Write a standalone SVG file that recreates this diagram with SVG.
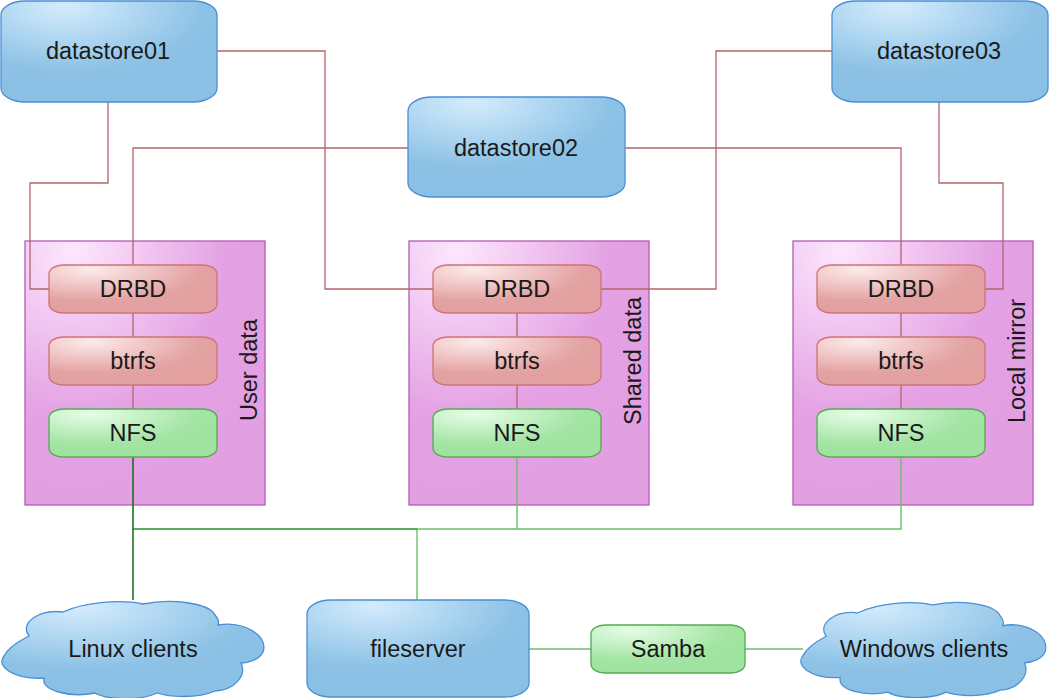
<svg xmlns="http://www.w3.org/2000/svg" xmlns:xlink="http://www.w3.org/1999/xlink" width="1049" height="698" viewBox="0 0 1049 698">
<style>
text{font-family:"Liberation Sans",Arial,sans-serif;font-size:23.5px;fill:#1a1a1a;text-anchor:middle}
.blue{fill:url(#gBlue);stroke:#4a8fd6;stroke-width:1.3}
.cont{fill:url(#gPink);stroke:#b25cb2;stroke-width:1.3}
.red{fill:url(#gRed);stroke:#cc7474;stroke-width:1.3}
.grn{fill:url(#gGreen);stroke:#55aa55;stroke-width:1.3}
.lr{fill:none;stroke:#b5646a;stroke-width:1.3}
.lgd{fill:none;stroke:#1f6f1f;stroke-width:1.6}
.lgm{fill:none;stroke:#2b8f2b;stroke-width:1.6}
.lgl{fill:none;stroke:#6cbf6c;stroke-width:1.4}
</style>
<defs>
<radialGradient id="gBlue" cx="0.3" cy="0.05" r="0.85" fx="0.3" fy="0.05"><stop offset="0" stop-color="#d4ecfd"/><stop offset="0.75" stop-color="#8dc2e6"/><stop offset="1" stop-color="#8bc0e5"/></radialGradient>
<radialGradient id="gPink" cx="0.2" cy="0.03" r="0.9" fx="0.2" fy="0.03"><stop offset="0" stop-color="#fde7fd"/><stop offset="0.7" stop-color="#e4a2e4"/><stop offset="1" stop-color="#e29fe2"/></radialGradient>
<radialGradient id="gRed" cx="0.25" cy="0.1" r="0.8" fx="0.25" fy="0.1"><stop offset="0" stop-color="#fdeaea"/><stop offset="0.8" stop-color="#e4a3a3"/><stop offset="1" stop-color="#e3a0a0"/></radialGradient>
<radialGradient id="gGreen" cx="0.25" cy="0.1" r="0.8" fx="0.25" fy="0.1"><stop offset="0" stop-color="#e6fde6"/><stop offset="0.8" stop-color="#a3e4a3"/><stop offset="1" stop-color="#a0e3a0"/></radialGradient>
<path id="cloud" d="M28,35 C18,22 38,8 62,11 C84,1 120,-2 142,3 C170,-3 208,2 214,14 C218,19 218,22 217,24 C242,20 268,34 262,51 C259,58 248,62 240,62 C246,74 234,89 214,90 C196,98 168,96 156,92 C140,100 106,99 94,92 C70,97 40,90 43,77 C15,79 -6,66 3,55 C8,45 22,38 28,35 Z"/>
</defs>

<g id="userdata">
<rect class="cont" x="25" y="241" width="240" height="264"/>
<text transform="translate(257,370) rotate(-90)">User data</text>
</g>
<g id="shareddata">
<rect class="cont" x="409" y="241" width="240" height="264"/>
<text transform="translate(641,361) rotate(-90)">Shared data</text>
</g>
<g id="localmirror">
<rect class="cont" x="793" y="241" width="240" height="264"/>
<text transform="translate(1025,361) rotate(-90)">Local mirror</text>
</g>

<g id="connectors">
<path class="lr" d="M108,102 V183 H30 V289 H49"/>
<path class="lr" d="M217,51 H325 V289 H433"/>
<path class="lr" d="M408,148 H133 V265"/>
<path class="lr" d="M625,148 H901 V265"/>
<path class="lr" d="M832,51 H716 V289 H601"/>
<path class="lr" d="M939,102 V183 H1003 V289 H985"/>
<path class="lr" d="M133,313 V337 M133,385 V409"/>
<path class="lr" d="M517,313 V337 M517,385 V409"/>
<path class="lr" d="M901,313 V337 M901,385 V409"/>
<path class="lgl" d="M517,457 V529 M901,457 V529 H417 V600"/>
<path class="lgm" d="M133,529 H417"/>
<path class="lgd" d="M133,457 V600"/>
<path class="lgl" d="M529,649 H591 M745,649 H803"/>
</g>

<g id="datastore01"><rect class="blue" x="1" y="1" width="216" height="101" rx="24" ry="14"/><text x="108" y="59">datastore01</text></g>
<g id="datastore02"><rect class="blue" x="408" y="97" width="217" height="100" rx="24" ry="14"/><text x="516" y="156">datastore02</text></g>
<g id="datastore03"><rect class="blue" x="832" y="1" width="216" height="101" rx="24" ry="14"/><text x="939" y="59">datastore03</text></g>

<g id="drbd1"><rect class="red" x="49" y="265" width="168" height="48" rx="14" ry="9"/><text x="133" y="297">DRBD</text></g>
<g id="btrfs1"><rect class="red" x="49" y="337" width="168" height="48" rx="14" ry="9"/><text x="133" y="369">btrfs</text></g>
<g id="nfs1"><rect class="grn" x="49" y="409" width="168" height="48" rx="14" ry="9"/><text x="133" y="441">NFS</text></g>

<g id="drbd2"><rect class="red" x="433" y="265" width="168" height="48" rx="14" ry="9"/><text x="517" y="297">DRBD</text></g>
<g id="btrfs2"><rect class="red" x="433" y="337" width="168" height="48" rx="14" ry="9"/><text x="517" y="369">btrfs</text></g>
<g id="nfs2"><rect class="grn" x="433" y="409" width="168" height="48" rx="14" ry="9"/><text x="517" y="441">NFS</text></g>

<g id="drbd3"><rect class="red" x="817" y="265" width="168" height="48" rx="14" ry="9"/><text x="901" y="297">DRBD</text></g>
<g id="btrfs3"><rect class="red" x="817" y="337" width="168" height="48" rx="14" ry="9"/><text x="901" y="369">btrfs</text></g>
<g id="nfs3"><rect class="grn" x="817" y="409" width="168" height="48" rx="14" ry="9"/><text x="901" y="441">NFS</text></g>

<g id="linuxclients"><use xlink:href="#cloud" href="#cloud" class="blue" transform="translate(1,601)"/><text x="133" y="657">Linux clients</text></g>
<g id="fileserver"><rect class="blue" x="307" y="600" width="222" height="97" rx="24" ry="14"/><text x="418" y="657">fileserver</text></g>
<g id="samba"><rect class="grn" x="591" y="625" width="154" height="48" rx="14" ry="9"/><text x="668" y="657">Samba</text></g>
<g id="windowsclients"><use xlink:href="#cloud" href="#cloud" class="blue" transform="translate(800,602) scale(0.935,0.98)"/><text x="924" y="657">Windows clients</text></g>
</svg>
